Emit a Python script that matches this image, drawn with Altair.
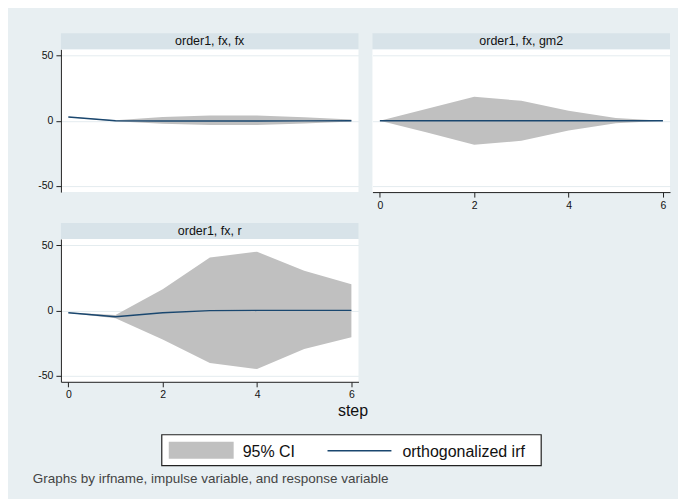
import altair as alt
import pandas as pd

# ---------------- data ----------------
steps = [0, 1, 2, 3, 4, 5, 6]
panel_names = ["order1, fx, fx", "order1, fx, gm2", "order1, fx, r"]

irf_fx_fx = [2.8, 0.0, -0.2, -0.2, -0.2, -0.1, 0.0]
lo_fx_fx = [2.6, -0.5, -2.4, -3.3, -3.3, -2.1, -0.7]
hi_fx_fx = [3.0, 0.4, 2.8, 4.0, 4.0, 2.6, 0.9]

irf_fx_gm2 = [0.0, 0.0, 0.0, 0.0, 0.0, 0.0, 0.0]
lo_fx_gm2 = [0.0, -9.0, -18.5, -15.5, -7.5, -2.0, 0.0]
hi_fx_gm2 = [0.0, 9.2, 18.5, 15.3, 7.7, 2.0, 0.0]

irf_fx_r = [-1.8, -4.9, -1.8, -0.2, 0.0, 0.0, 0.0]
lo_fx_r = [-2.0, -6.0, -22.5, -40.5, -45.2, -29.7, -20.7]
hi_fx_r = [-1.6, -3.6, 16.3, 40.8, 45.2, 30.5, 20.2]

legend_labels = ["95% CI", "orthogonalized irf"]
y_ticks = [-50, 0, 50]
x_ticks = [0, 2, 4, 6]
x_title = "step"
note_text = "Graphs by irfname, impulse variable, and response variable"

# ---------------- style ----------------
FONT = "Liberation Sans"
BG = "#e8eff2"
STRIP_BG = "#d8e3e9"
CI_COLOR = "#c0c0c0"
LINE_COLOR = "#1a476f"
GRID = "#e4ecef"
AXC = "#222222"
W, H, STRIP = 298, 143, 16
YDOM = [-55, 55]
XDOM = [-0.157, 6.15]
HYPHEN_LABEL = "datum.value < 0 ? '-' + format(-datum.value, 'd') : format(datum.value, 'd')"


def panel(name, irf, lo, hi, show_x, show_y, x_axis_title=False, with_legend=False):
    d = pd.DataFrame({"step": steps, "irf": irf, "lo": lo, "hi": hi, "panel": name})
    base = alt.Chart(d)

    if show_x:
        xkw = dict(values=x_ticks, grid=False, tickSize=5, labelPadding=3,
                   labelFontSize=10.5, labelFont=FONT, labelColor="#111",
                   domainColor=AXC, tickColor=AXC, labelExpr=HYPHEN_LABEL)
        if x_axis_title:
            xkw.update(title=x_title, titleFont=FONT, titleFontSize=16,
                       titleFontWeight="normal", titleColor="#111",
                       titleX=292, titleY=29, titleBaseline="middle", titleAlign="center")
        else:
            xkw.update(title=None)
        xaxis = alt.Axis(**xkw)
    else:
        xaxis = None

    yaxis = alt.Axis(values=y_ticks, grid=True, gridColor=GRID, gridWidth=1,
                     labels=show_y, ticks=show_y, domain=show_y, tickSize=5,
                     labelPadding=3, labelFontSize=10.5, labelFont=FONT,
                     labelColor="#111", domainColor=AXC, tickColor=AXC, title=None,
                     labelExpr=HYPHEN_LABEL)

    x = alt.X("step:Q", scale=alt.Scale(domain=XDOM, nice=False, zero=False),
              axis=xaxis, title=(x_title if x_axis_title else None))
    area = base.mark_area(color=CI_COLOR, opacity=1).encode(
        x=x,
        y=alt.Y("lo:Q", scale=alt.Scale(domain=YDOM, nice=False, zero=False),
                axis=yaxis, title=None),
        y2="hi:Q",
    )
    line = base.mark_line(color=LINE_COLOR, strokeWidth=1.4).encode(
        x="step:Q", y=alt.Y("irf:Q", title=None)
    )
    head = base.transform_filter("datum.step == 0")
    strip = head.mark_rect(color=STRIP_BG).encode(
        x=alt.value(0), x2=alt.value(W), y=alt.value(-STRIP), y2=alt.value(0)
    )
    strip_text = head.mark_text(font=FONT, fontSize=12.5, color="#111",
                                baseline="middle", align="center").encode(
        x=alt.value(W / 2), y=alt.value(-STRIP / 2), text="panel:N"
    )
    layers = [area, line, strip, strip_text]

    if with_legend:
        ld = pd.DataFrame({"label": legend_labels})
        lb = alt.Chart(ld)
        box = lb.transform_filter(alt.datum.label == legend_labels[0]).mark_rect(
            fill="white", stroke="#222", strokeWidth=1.2
        ).encode(x=alt.value(101), x2=alt.value(481), y=alt.value(196), y2=alt.value(227))
        swatch = lb.transform_filter(alt.datum.label == legend_labels[0]).mark_rect(
            color=CI_COLOR
        ).encode(x=alt.value(108), x2=alt.value(173), y=alt.value(203), y2=alt.value(220))
        lkey = lb.transform_filter(alt.datum.label == legend_labels[1]).mark_rule(
            color=LINE_COLOR, strokeWidth=1.4
        ).encode(x=alt.value(267), x2=alt.value(331), y=alt.value(212))
        t1 = lb.transform_filter(alt.datum.label == legend_labels[0]).mark_text(
            font=FONT, fontSize=16, color="#111", align="left", baseline="middle"
        ).encode(x=alt.value(182), y=alt.value(213), text="label:N")
        t2 = lb.transform_filter(alt.datum.label == legend_labels[1]).mark_text(
            font=FONT, fontSize=16, color="#111", align="left", baseline="middle"
        ).encode(x=alt.value(342), y=alt.value(213), text="label:N")
        layers += [box, swatch, lkey, t1, t2]

    return alt.layer(*layers).properties(width=W, height=H)


p1 = panel(panel_names[0], irf_fx_fx, lo_fx_fx, hi_fx_fx, show_x=False, show_y=True)
p2 = panel(panel_names[1], irf_fx_gm2, lo_fx_gm2, hi_fx_gm2, show_x=True, show_y=False)
p3 = panel(panel_names[2], irf_fx_r, lo_fx_r, hi_fx_r, show_x=True, show_y=True,
           x_axis_title=True, with_legend=True)

row1 = alt.hconcat(p1, p2, spacing=14)
chart = alt.vconcat(row1, p3, spacing=12).properties(
    background=BG,
    padding={"left": 24, "top": 25, "right": 8, "bottom": 12},
    title=alt.TitleParams(
        text=note_text, orient="bottom", anchor="start", font=FONT,
        fontSize=13.5, fontWeight="normal", color="#444", offset=6, dx=-5,
    ),
).configure_view(stroke=None, fill="white")

chart.save("out.html", embed_options={"renderer": "svg", "actions": False})
